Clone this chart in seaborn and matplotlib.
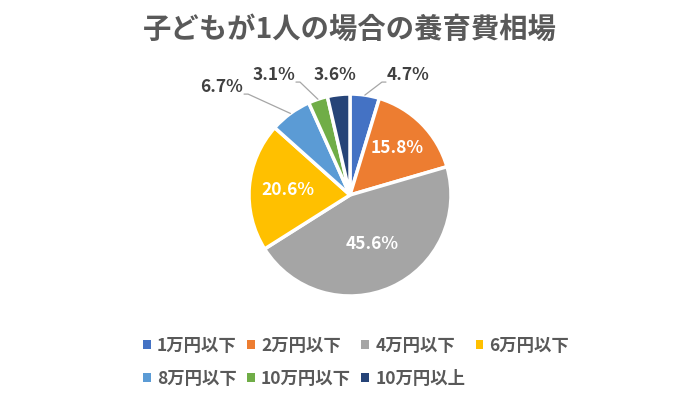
import matplotlib
matplotlib.use('Agg')
import matplotlib.pyplot as plt
import numpy as np
import seaborn as sns
from matplotlib.patches import Patch

# データ
categories = ['1万円以下', '2万円以下', '4万円以下', '6万円以下', '8万円以下', '10万円以下', '10万円以上']
shares = [4.7, 15.8, 45.6, 20.6, 6.7, 3.1, 3.6]
colors = ['#4472C4', '#ED7D31', '#A5A5A5', '#FFC000', '#5B9BD5', '#70AD47', '#264478']
title = '子どもが1人の場合の養育費相場'

sns.set_theme(style='white')
plt.rcParams['font.family'] = ['Noto Sans CJK JP', 'DejaVu Sans']

W, H = 700, 399
R = 101.0          # 半径(px)
CX, CY = 350, 195  # 中心(px, 上から)

fig = plt.figure(figsize=(W / 100, H / 100), dpi=100)
ax = fig.add_axes([0, 0, 1, 1])

palette = sns.color_palette(colors)
wedges, _ = ax.pie(shares, colors=palette, startangle=90, counterclock=False,
                   radius=1.0, wedgeprops=dict(edgecolor='white', linewidth=2.5))

ax.set_xlim(-CX / R, (W - CX) / R)
ax.set_ylim(-(H - CY) / R, CY / R)
ax.set_aspect('equal', adjustable='box')
ax.axis('off')

# ラベル配置 (内側: 距離, 外側: テキスト位置と揃え)
inside = {1: 0.66, 2: 0.53, 3: 0.62}
outside = {0: (0.366, 1.188, 'left', True),
           4: (-1.059, 1.069, 'right', True),
           5: (-0.545, 1.188, 'right', True),
           6: (-0.149, 1.188, 'center', False)}

for i, w in enumerate(wedges):
    ang = np.deg2rad((w.theta1 + w.theta2) / 2)
    txt = f'{shares[i]:.1f}%'
    if i in inside:
        d = inside[i]
        ax.text(d * np.cos(ang), d * np.sin(ang), txt, ha='center', va='center',
                color='white', fontsize=12.5, fontweight='bold')
    else:
        tx, ty, ha, line = outside[i]
        ax.text(tx, ty, txt, ha=ha, va='center', color='#404040',
                fontsize=12.5, fontweight='bold')
        if line:
            sx, sy = np.cos(ang), np.sin(ang)
            sgn = -1 if ha == 'left' else 1
            ey = ty - 0.07
            xs = [sx, tx + sgn * 0.05, tx + sgn * 0.01]
            ys = [sy, ey, ey]
            ax.plot(xs, ys, color='#A6A6A6', linewidth=0.9)

fig.text(0.5, 1 - 30 / H, title, ha='center', va='center', fontsize=20.4,
         fontweight='bold', color='#595959')

# 凡例は行優先で並べる
order = [0, 4, 1, 5, 2, 6, 3]
handles = [Patch(facecolor=palette[i], edgecolor='none') for i in order]
labels = [categories[i] for i in order]
fig.legend(handles, labels, ncol=4, loc='upper left',
           bbox_to_anchor=(143 / W, 1 - 337 / H), frameon=False,
           handlelength=0.45, handleheight=0.45, handletextpad=0.35,
           columnspacing=0.6, labelspacing=0.85, borderpad=0, borderaxespad=0,
           prop=dict(weight='bold', size=12.5))
for t in fig.legends[0].get_texts():
    t.set_color('#595959')

fig.savefig('out.png', dpi=100)
